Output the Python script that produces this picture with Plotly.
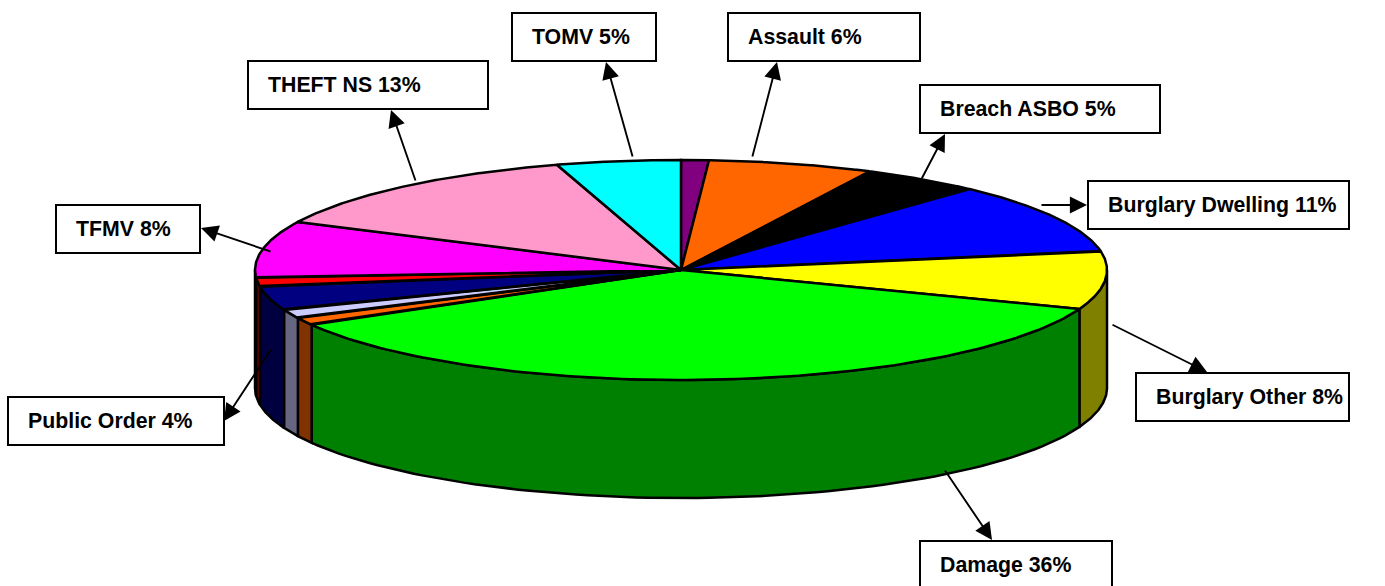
import numpy as np
import plotly.graph_objects as go

# Data (percent of total, clockwise from 12 o'clock)
names = ["Other A", "Assault", "Breach ASBO", "Burglary Dwelling", "Burglary Other", "Damage",
         "Other B", "Other C", "Public Order", "Other D", "TFMV", "THEFT NS", "TOMV"]
values = [1.05, 6.27, 4.57, 10.42, 8.54, 36.05, 1.1, 1.3, 3.5, 1.3, 8.35, 13.13, 4.72]
top_colors = ["#800080", "#FF6600", "#000000", "#0000FF", "#FFFF00", "#00FF00", "#FF6600",
              "#CCCCFF", "#000080", "#FF0000", "#FF00FF", "#FF99CC", "#00FFFF"]
side_colors = ["#400040", "#803300", "#000000", "#000080", "#808000", "#008000", "#803300",
               "#666680", "#000040", "#800000", "#800080", "#804D66", "#008080"]

# Callouts: label text
label_texts = ["TOMV 5%", "Assault 6%", "Breach ASBO 5%", "Burglary Dwelling 11%", "Burglary Other 8%",
               "Damage 36%", "Public Order 4%", "TFMV 8%", "THEFT NS 13%"]
box_x0 = [512, 728, 920, 1088, 1136, 920, 8, 56, 248]
box_x1 = [656, 920, 1160, 1349, 1349, 1112, 224, 200, 488]
box_y0 = [13, 13, 85, 181, 373, 541, 397, 205, 61]
box_y1 = [61, 61, 133, 229, 421, 589, 445, 253, 109]
arrow_from = [(633, 158), (752, 158), (921, 180), (1040, 205), (1111, 324), (944, 469), (272, 348), (272, 252), (416, 182)]
arrow_to = [(606, 62), (777, 62), (945, 134), (1087, 205), (1207, 372), (992, 540), (224, 421), (201, 228), (391, 110)]

CX, CY, RX, RY, DEPTH = 681, 270, 426, 110, 118
v = np.array(values, dtype=float)
edges = np.concatenate([[0], np.cumsum(v) / v.sum() * 2 * np.pi])


def ell(a, dy=0.0):
    return CX + RX * np.sin(a), CY - RY * np.cos(a) + dy


fig = go.Figure()
line = dict(color="black", width=2.5)

# side walls (visible front half only)
for i in range(len(v)):
    a0, a1 = max(edges[i], np.pi / 2), min(edges[i + 1], 3 * np.pi / 2)
    if a1 <= a0:
        continue
    t = np.linspace(a0, a1, 80)
    x1, y1 = ell(t)
    x2, y2 = ell(t[::-1], DEPTH)
    fig.add_trace(go.Scatter(x=np.r_[x1, x2, x1[0]], y=np.r_[y1, y2, y1[0]], mode="lines", fill="toself",
                             fillcolor=side_colors[i], line=line, hoverinfo="skip", showlegend=False))

# top slices
for i in range(len(v)):
    t = np.linspace(edges[i], edges[i + 1], 120)
    x1, y1 = ell(t)
    fig.add_trace(go.Scatter(x=np.r_[CX, x1, CX], y=np.r_[CY, y1, CY], mode="lines", fill="toself",
                             fillcolor=top_colors[i], line=line, hoverinfo="skip", showlegend=False))

shapes = []
ann = []
for i, txt in enumerate(label_texts):
    shapes.append(dict(type="rect", xref="x", yref="y", x0=box_x0[i], x1=box_x1[i], y0=box_y0[i], y1=box_y1[i],
                       line=dict(color="black", width=2), fillcolor="white", layer="above"))
    ann.append(dict(x=box_x0[i] + 18, y=(box_y0[i] + box_y1[i]) / 2 if box_y1[i] < 586 else 565, xref="x", yref="y",
                    text="<b>" + txt + "</b>", showarrow=False, xanchor="left", yanchor="middle",
                    font=dict(family="Liberation Sans", size=21.3, color="black")))
    ann.append(dict(x=arrow_to[i][0], y=arrow_to[i][1], ax=arrow_from[i][0], ay=arrow_from[i][1],
                    xref="x", yref="y", axref="x", ayref="y", text="", showarrow=True,
                    arrowhead=2, arrowsize=1.8, arrowwidth=1.9, arrowcolor="black", standoff=0))

fig.update_layout(width=1385, height=586, margin=dict(l=0, r=0, t=0, b=0), paper_bgcolor="white",
                  plot_bgcolor="white", shapes=shapes, annotations=ann,
                  xaxis=dict(range=[0, 1385], visible=False, fixedrange=True),
                  yaxis=dict(range=[586, 0], visible=False, fixedrange=True))
fig.write_html("out.html", config={"displayModeBar": False},
               post_script="document.body.style.margin='0';document.documentElement.style.overflow='hidden';")
